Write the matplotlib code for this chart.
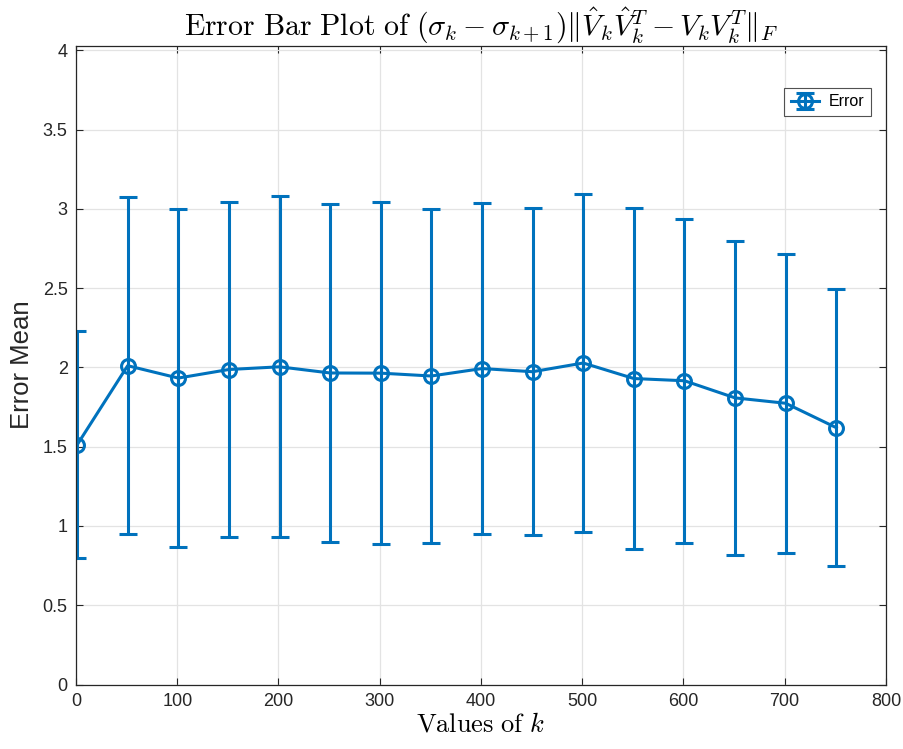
import numpy as np
import matplotlib
matplotlib.use("Agg")
import matplotlib.pyplot as plt
from matplotlib.ticker import FuncFormatter

# valores
k_vals = [1, 51, 101, 151, 201, 251, 301, 351, 401, 451, 501, 551, 601, 651, 701, 751]
err_mean = [1.511, 2.011, 1.933, 1.987, 2.004, 1.965, 1.964, 1.946, 1.993, 1.973,
            2.028, 1.930, 1.916, 1.808, 1.774, 1.620]
err_std = [0.716, 1.064, 1.066, 1.054, 1.075, 1.065, 1.080, 1.054, 1.043, 1.030,
           1.066, 1.077, 1.021, 0.990, 0.942, 0.874]

COR = "#0072BD"

plt.rcParams["font.family"] = ["Liberation Sans", "DejaVu Sans"]
plt.rcParams["mathtext.fontset"] = "cm"

fig = plt.figure(figsize=(9.04, 7.49), dpi=100)
ax = fig.add_axes([0.0841, 0.0861, 0.8959, 0.853])

ax.errorbar(k_vals, err_mean, yerr=err_std, color=COR, lw=2.2, elinewidth=2.2,
            capsize=6.5, capthick=2.2, marker="o", markersize=10,
            markerfacecolor="none", markeredgewidth=2.2, label="Error")

ax.set_xlim(0, 800)
ax.set_ylim(0, 4.03)
ax.set_xticks(np.arange(0, 801, 100))
ax.set_yticks(np.arange(0, 4.01, 0.5))
ax.yaxis.set_major_formatter(FuncFormatter(lambda v, p: "%g" % v))
ax.grid(True, color="#e3e3e3", lw=0.9)
ax.set_axisbelow(True)
ax.tick_params(direction="in", top=True, right=True, length=5, width=0.8,
               labelsize=13, colors="#262626", pad=6)
for s in ax.spines.values():
    s.set_color("#262626")
    s.set_linewidth(0.9)

ax.set_title(r"$\mathrm{Error\ Bar\ Plot\ of}\ (\sigma_k-\sigma_{k+1})\|\hat{V}_k\hat{V}_k^T-V_kV_k^T\|_F$",
             fontsize=21.5, pad=8)
ax.set_xlabel(r"$\mathrm{Values\ of}\ k$", fontsize=19, labelpad=2)
ax.set_ylabel("Error Mean", fontsize=18.5, color="#262626", labelpad=6)

leg = ax.legend(loc="upper right", bbox_to_anchor=(0.9815, 0.934), borderaxespad=0,
                fontsize=11.5, fancybox=False, edgecolor="#262626",
                handlelength=1.8, handletextpad=0.6)
leg.get_frame().set_linewidth(0.8)

fig.savefig("out.png", dpi=100)
